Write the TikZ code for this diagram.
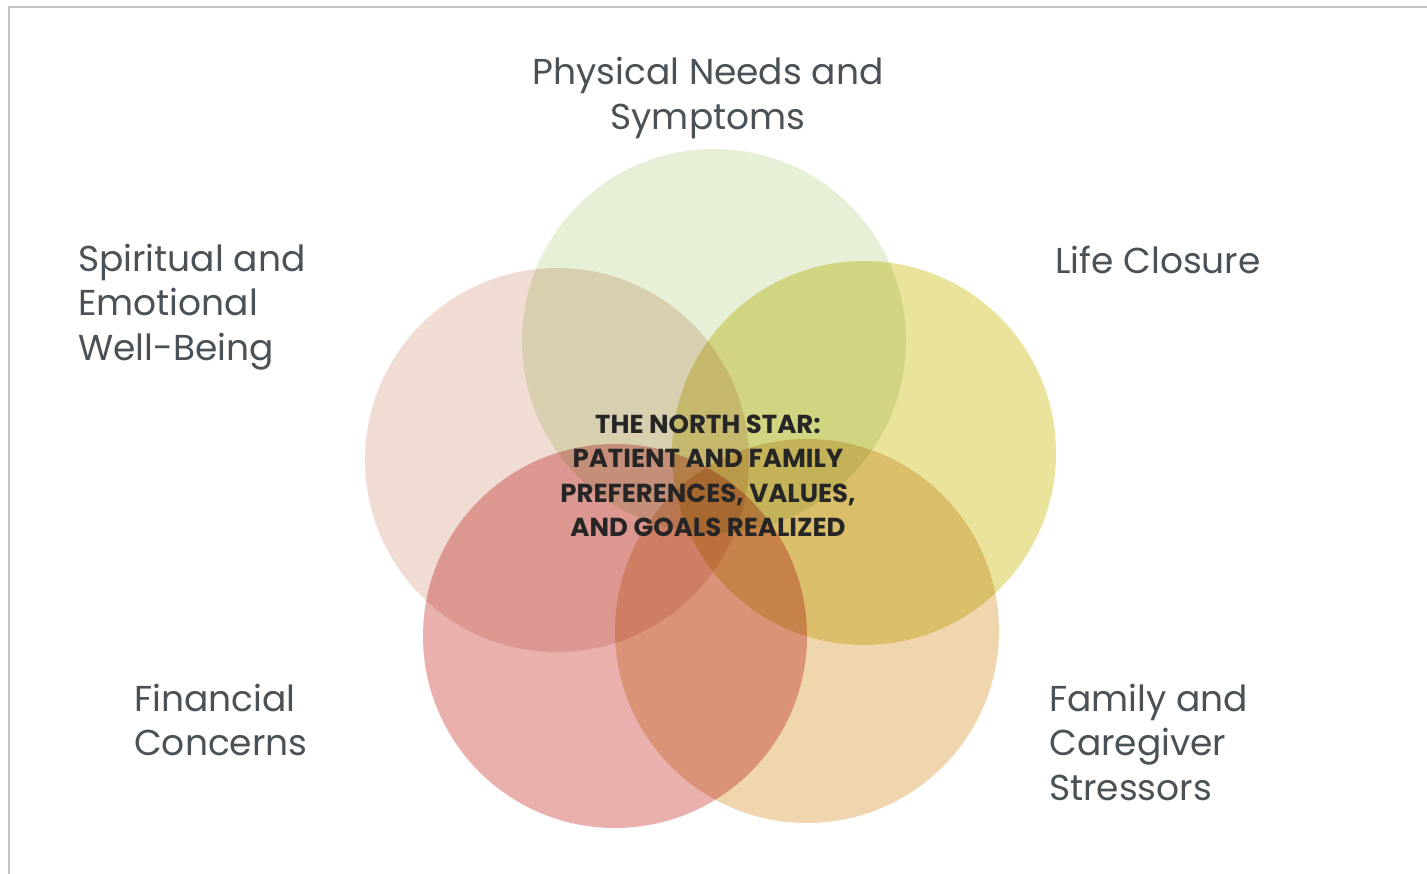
\documentclass[tikz,border=0pt]{standalone}
\usepackage{fontspec}
\setmainfont{Poppins}
\definecolor{cTop}{HTML}{E5F0D6}
\definecolor{cLeft}{HTML}{F1DCD4}
\definecolor{cRight}{HTML}{E9E39C}
\definecolor{cBL}{HTML}{E9B0AE}
\definecolor{cBR}{HTML}{EFD6AE}
\definecolor{labelgray}{HTML}{4A5257}
\definecolor{framegray}{HTML}{C4C4C4}
\tikzset{
  petal/.style={circle, minimum size=384pt, inner sep=0pt, blend mode=multiply},
  label/.style={text=labelgray, font=\fontsize{36}{44.5}\selectfont, inner sep=0pt},
  labell/.style={label, align=left, anchor=west},
  core/.style={text=black!85, font=\fontsize{26}{34.5}\selectfont\bfseries, align=center, inner sep=0pt}
}
\begin{document}
\begin{tikzpicture}[x=1pt,y=-1pt]
\useasboundingbox (0,0) rectangle (1427,874);
\fill[white] (0,0) rectangle (1427,874);
\draw[framegray, line width=1.5pt] (9,874) coordinate (fbl) -- (9,7) coordinate (ftl) -- (1427,7) coordinate (ftr);
\node[petal, fill=cTop] (top) at (714,341) {};
\node[petal, fill=cLeft] (left) at (557,460) {};
\node[petal, fill=cRight] (right) at (864,453) {};
\node[petal, fill=cBL] (bl) at (615,636) {};
\node[petal, fill=cBR] (br) at (807,631) {};
\node[label, align=center] (tPhys) at (708,98) {Physical Needs and\\Symptoms};
\node[labell] (tSpir) at (78,307) {Spiritual and\\Emotional\\Well-Being};
\node[labell] (tLife) at (1055,260) {Life Closure};
\node[labell] (tFin) at (134,720) {Financial\\Concerns};
\node[labell] (tFam) at (1049,742) {Family and\\Caregiver\\Stressors};
\node[core] (tCore) at (708,476) {THE NORTH STAR:\\PATIENT AND FAMILY\\PREFERENCES, VALUES,\\AND GOALS REALIZED};
\end{tikzpicture}
\end{document}
